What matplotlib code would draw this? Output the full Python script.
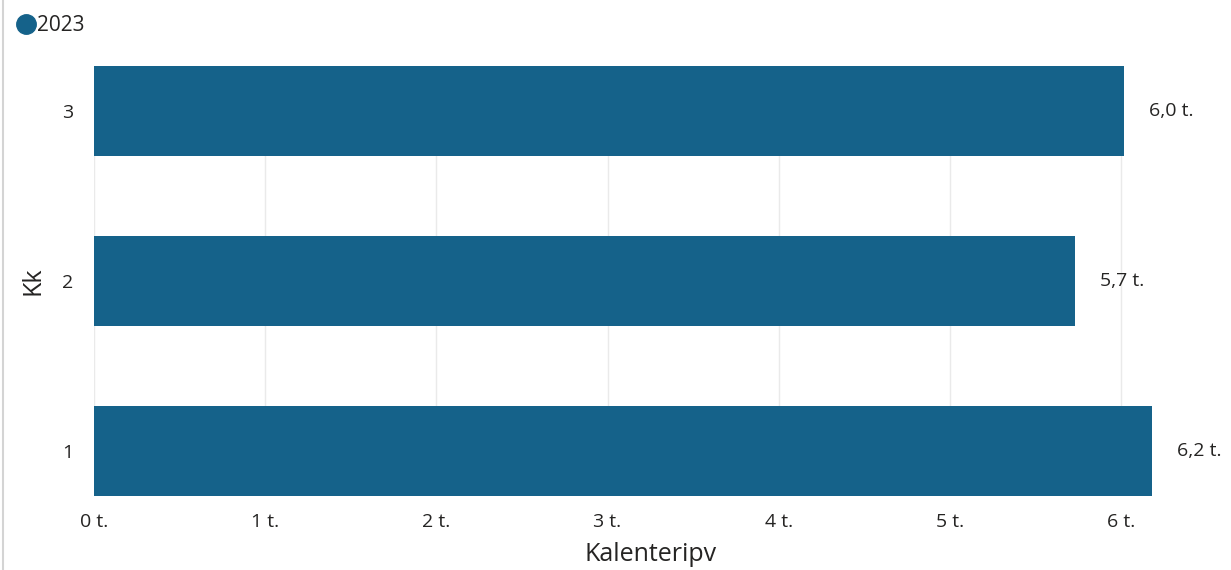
import matplotlib.pyplot as plt
from matplotlib.lines import Line2D

plt.rcParams['font.family'] = ['Open Sans', 'DejaVu Sans']

kk = [1, 2, 3]
paivat = [6.18, 5.73, 6.02]
arvot = ['6,2 t.', '5,7 t.', '6,0 t.']
xticks = [0, 1, 2, 3, 4, 5, 6]
xticklabels = ['0 t.', '1 t.', '2 t.', '3 t.', '4 t.', '5 t.', '6 t.']
sarja = '2023'

bar_color = '#15628A'
text_color = '#252423'

fig = plt.figure(figsize=(12.31, 5.70), dpi=100)
ax = fig.add_axes([94 / 1231, 1 - 496 / 570, 6.5 * 171.17 / 1231, 430 / 570])

ax.barh(kk, paivat, height=0.53, color=bar_color, zorder=3)
for y, v, lab in zip(kk, paivat, arvot):
    ax.annotate(lab, (v, y), xytext=(18, 0), textcoords='offset points',
                va='center', ha='left', fontsize=14, color=text_color,
                annotation_clip=False)

ax.set_xlim(0, 6.5)
ax.set_ylim(0.735, 3.265)
ax.set_xticks(xticks)
ax.set_xticklabels(xticklabels)
ax.set_yticks(kk)
ax.set_yticklabels([str(k) for k in kk])
ax.tick_params(axis='x', length=0, pad=12, labelsize=14, labelcolor=text_color)
ax.tick_params(axis='y', length=0, pad=15, labelsize=14, labelcolor=text_color)
ax.grid(axis='x', color='#eaeaea', linewidth=1, zorder=0)
for s in ax.spines.values():
    s.set_visible(False)

ax.set_xlabel('Kalenteripv', fontsize=18, color=text_color, labelpad=8)
ax.set_ylabel('Kk', fontsize=18, color=text_color, labelpad=12)

handle = Line2D([], [], marker='o', linestyle='none', markersize=14,
                color=bar_color)
fig.legend([handle], [sarja], loc='upper left', bbox_to_anchor=(-0.004, 1.006),
           frameon=False, handletextpad=-0.1, handlelength=1.2, fontsize=15,
           labelcolor=text_color)

fig.add_artist(Line2D([3 / 1231, 3 / 1231], [0, 1], color='#d4d4d4',
                      linewidth=1.5, transform=fig.transFigure))

fig.savefig('out.png', dpi=100)
